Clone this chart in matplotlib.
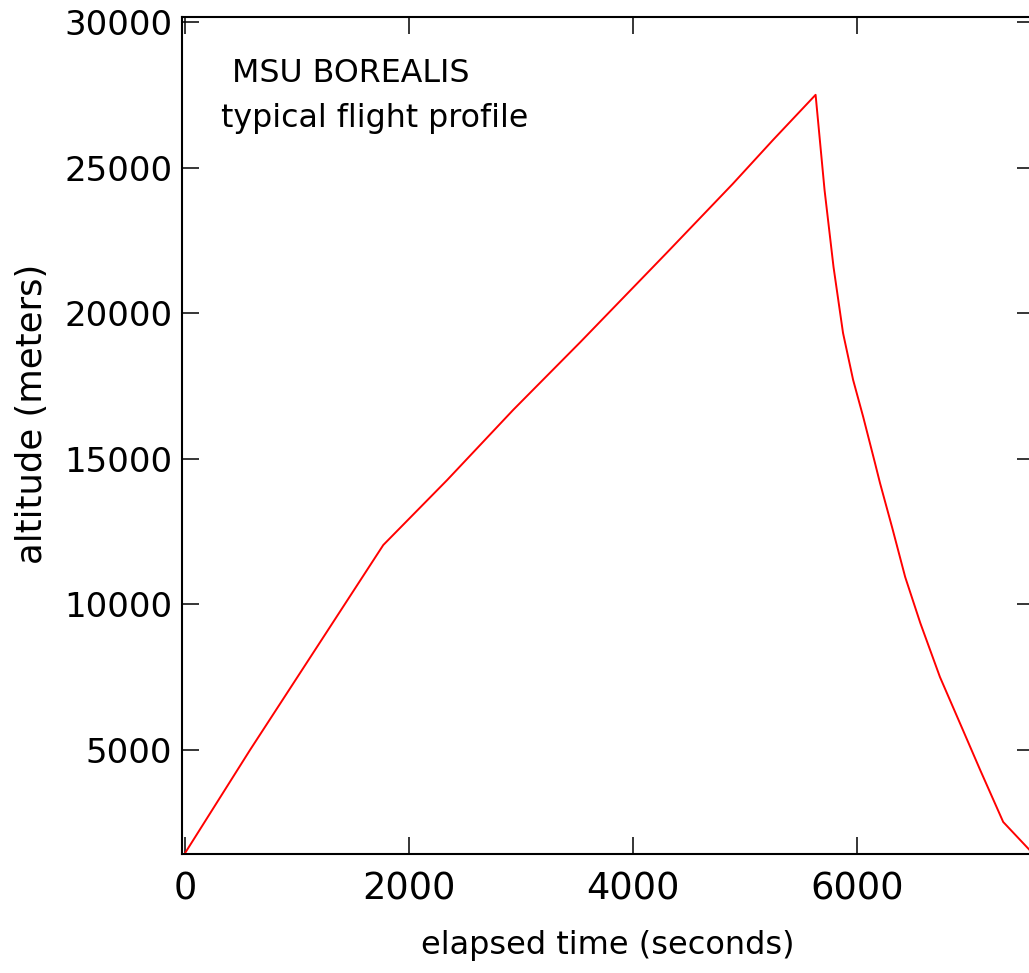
import matplotlib
matplotlib.use("Agg")
import matplotlib.pyplot as plt

# elapsed time (s) and altitude (m)
time_s = [0, 580, 1770, 2340, 2930, 3530, 4300, 4890, 5250, 5630,
          5710, 5790, 5875, 5965, 6055, 6160, 6205, 6315, 6430, 6565, 6740,
          6945, 7100, 7305, 7540]
altitude_m = [1460, 5000, 12040, 14270, 16680, 19010, 22070, 24440, 25950, 27500,
              24230, 21590, 19320, 17710, 16440, 14860, 14170, 12620, 10940, 9360, 7510,
              5690, 4310, 2530, 1570]

x_ticks = [0, 2000, 4000, 6000]
y_ticks = [5000, 10000, 15000, 20000, 25000, 30000]

W, H = 1029, 973
fig = plt.figure(figsize=(W / 100, H / 100), dpi=100)
left, right, top, bottom = 182, 1034, 17, 854
ax = fig.add_axes([left / W, (H - bottom) / H, (right - left) / W, (bottom - top) / H])

ax.plot(time_s, altitude_m, color="#ff0000", lw=1.4)
ax.set_xlim(-27, 7580)
ax.set_ylim(1430, 30172)
ax.set_xticks(x_ticks)
ax.set_yticks(y_ticks)

fam = ["DejaVu Sans"]
ax.tick_params(direction="in", length=12, width=1.1, top=True, right=True,
               colors="black")
ax.tick_params(axis="x", labelsize=26.5, pad=12)
ax.tick_params(axis="y", labelsize=24.5, pad=7)
for lab in ax.get_xticklabels() + ax.get_yticklabels():
    lab.set_family(fam)
for sp in ax.spines.values():
    sp.set_linewidth(1.5)

ax.set_xlabel("elapsed time (seconds)", fontsize=23, labelpad=16, family=fam)
ax.set_ylabel("altitude (meters)", fontsize=25.5, family=fam)
ax.yaxis.set_label_coords(-0.156, 0.526)

ax.text(0.198, 0.932, "MSU BOREALIS", transform=ax.transAxes, ha="center",
        va="center", fontsize=22.8, family=fam)
ax.text(0.2265, 0.879, "typical flight profile", transform=ax.transAxes,
        ha="center", va="center", fontsize=22.8, family=fam)

fig.savefig("out.png", dpi=100)
